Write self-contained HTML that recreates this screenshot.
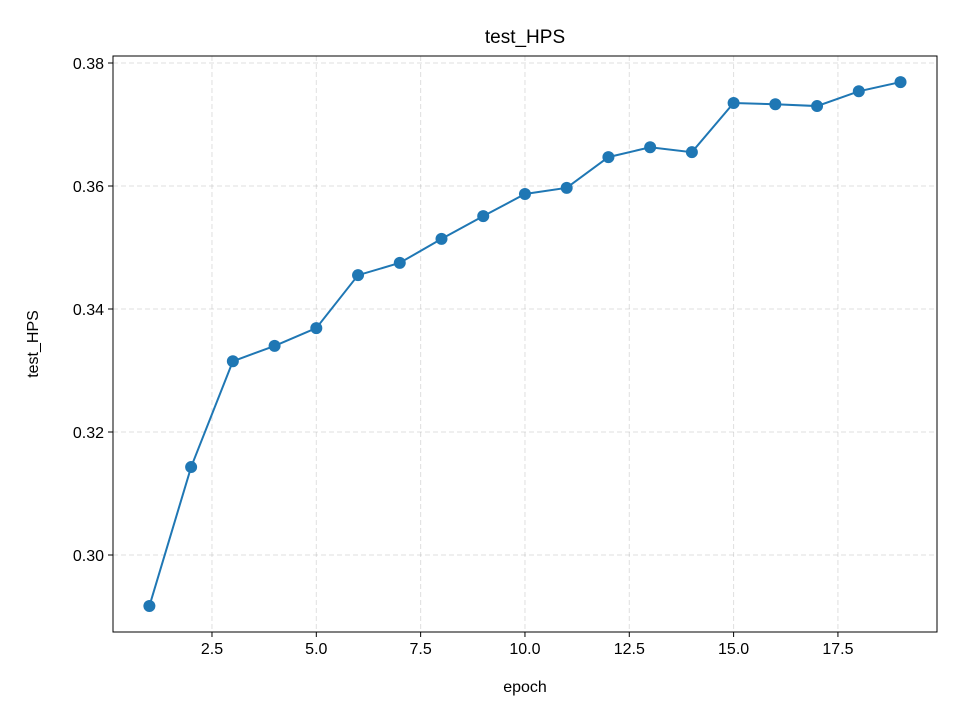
<!DOCTYPE html>
<html><head><meta charset="utf-8"><style>
body{margin:0;background:#fff;}
svg text{font-family:"Liberation Sans","DejaVu Sans",sans-serif;fill:#000;}
</style></head><body>
<svg id="chart" width="960" height="720" viewBox="0 0 960 720">
<rect width="960" height="720" fill="#fff"/>
<g id="grid"></g>
<g id="ticks"></g>
<g id="series"></g>
<rect x="113" y="56" width="824" height="576" fill="none" stroke="#000" stroke-width="1"/>
<text x="525" y="43" font-size="19" text-anchor="middle">test_HPS</text>
<text x="525" y="692" font-size="16" text-anchor="middle">epoch</text>
<text x="38" y="344" font-size="16" text-anchor="middle" transform="rotate(-90 38 344)">test_HPS</text>
</svg>
<script>
const epochs=[1,2,3,4,5,6,7,8,9,10,11,12,13,14,15,16,17,18,19];
const values=[0.2917,0.3143,0.3315,0.3340,0.3369,0.3455,0.3475,0.3514,0.3551,0.3587,0.3597,0.3647,0.3663,0.3655,0.3735,0.3733,0.3730,0.3754,0.3769];
const xTicks=[2.5,5.0,7.5,10.0,12.5,15.0,17.5];
const yTicks=[0.30,0.32,0.34,0.36,0.38];
const L=113,R=937,T=56,B=632,x0=0.128,x1=19.874,y0=0.28748,y1=0.38114;
const sx=v=>L+(v-x0)/(x1-x0)*(R-L);
const sy=v=>B-(v-y0)/(y1-y0)*(B-T);
const NS='http://www.w3.org/2000/svg';
function mk(t,a,p){const e=document.createElementNS(NS,t);for(const k in a)e.setAttribute(k,a[k]);p.appendChild(e);return e;}
const g=document.getElementById('grid'),tk=document.getElementById('ticks'),s=document.getElementById('series');
xTicks.forEach(v=>{const x=sx(v);
 let l=mk('line',{x1:x,x2:x,y1:T,y2:B,stroke:'#b0b0b0','stroke-opacity':0.4,'stroke-dasharray':'5,3'},g);
 
 let m=mk('line',{x1:x,x2:x,y1:B,y2:B+5,stroke:'#000'},tk);
 
 let t=mk('text',{x:x,y:B+22,'font-size':16,'text-anchor':'middle'},tk);t.textContent=v.toFixed(1);
 });
yTicks.forEach(v=>{const y=sy(v);
 let l=mk('line',{x1:L,x2:R,y1:y,y2:y,stroke:'#b0b0b0','stroke-opacity':0.4,'stroke-dasharray':'5,3'},g);
 
 let m=mk('line',{x1:L-5,x2:L,y1:y,y2:y,stroke:'#000'},tk);
 
 let t=mk('text',{x:L-9,y:y+6,'font-size':16,'text-anchor':'end'},tk);t.textContent=v.toFixed(2);
 });
let pl=mk('polyline',{points:epochs.map((e,i)=>sx(e)+','+sy(values[i])).join(' '),fill:'none',stroke:'#1f77b4','stroke-width':2},s);

epochs.forEach((e,i)=>{let c=mk('circle',{cx:sx(e),cy:sy(values[i]),r:6,fill:'#1f77b4'},s);
 });
</script>
</body></html>
